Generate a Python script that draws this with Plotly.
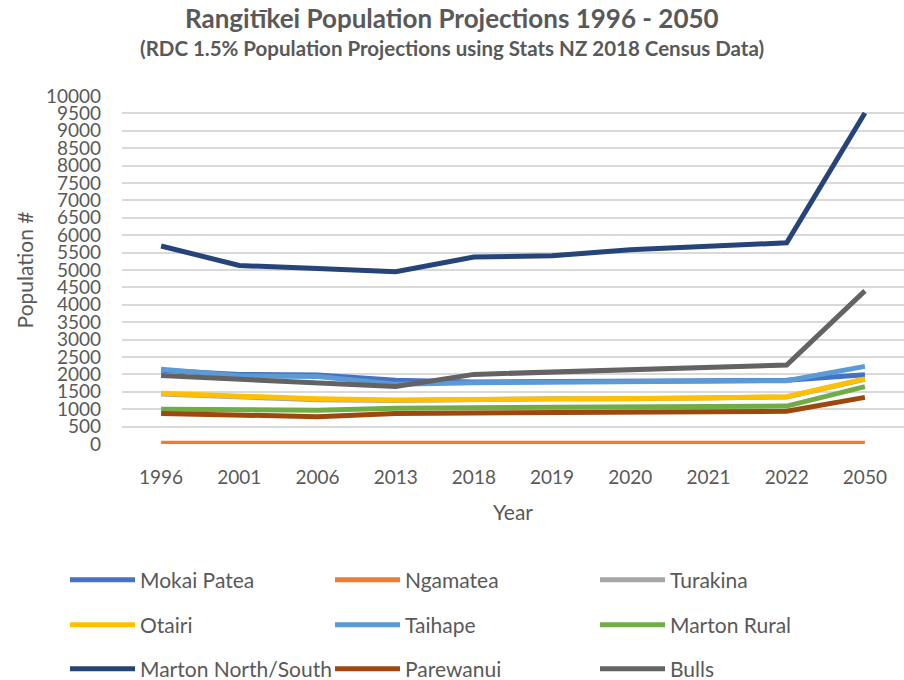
import plotly.graph_objects as go

years = ["1996", "2001", "2006", "2013", "2018", "2019", "2020", "2021", "2022", "2050"]

mokai_patea = [2120, 2000, 1980, 1830, 1780, 1790, 1800, 1810, 1830, 1990]
ngamatea = [25, 25, 25, 25, 20, 20, 20, 20, 20, 20]
turakina = [1440, 1350, 1270, 1250, 1280, 1300, 1300, 1310, 1350, 1860]
otairi = [1455, 1380, 1300, 1265, 1290, 1310, 1310, 1320, 1360, 1870]
taihape = [2150, 1960, 1940, 1720, 1760, 1780, 1790, 1800, 1820, 2230]
marton_rural = [1000, 990, 970, 1030, 1050, 1060, 1070, 1080, 1090, 1650]
marton_ns = [5690, 5130, 5040, 4950, 5370, 5410, 5580, 5670, 5780, 9510]
parewanui = [880, 830, 785, 880, 885, 920, 925, 930, 940, 1340]
bulls = [1965, 1860, 1790, 1650, 2000, 2070, 2140, 2210, 2270, 4400]

series = [
    ("Mokai Patea", mokai_patea, "#4472C4", "legend"),
    ("Ngamatea", ngamatea, "#ED7D31", "legend"),
    ("Turakina", turakina, "#A5A5A5", "legend"),
    ("Otairi", otairi, "#FFC000", "legend2"),
    ("Taihape", taihape, "#5B9BD5", "legend2"),
    ("Marton Rural", marton_rural, "#70AD47", "legend2"),
    ("Marton North/South", marton_ns, "#264478", "legend3"),
    ("Parewanui", parewanui, "#9E480E", "legend3"),
    ("Bulls", bulls, "#636363", "legend3"),
]

FONT = "Lato"
TXT = "#595959"
W, H = 904, 680
L, R, T, B = 122, 0, 96, 236
PW, PH = W - L - R, H - T - B

def px_x(px):
    return (px - L) / PW

def px_y(py):
    return (H - B - py) / PH

fig = go.Figure()
for name, vals, color, lg in series:
    fig.add_trace(go.Scatter(
        x=years, y=vals, name=name, mode="lines",
        line=dict(color=color, width=5),
        legend=lg,
    ))

def leg(py):
    return dict(
        orientation="h", xref="paper", yref="paper",
        x=px_x(65), y=px_y(py), xanchor="left", yanchor="middle",
        entrywidth=185, entrywidthmode="pixels",
        itemwidth=65,
        font=dict(family=FONT, size=21, color=TXT),
        bgcolor="rgba(0,0,0,0)",
    )

fig.update_layout(
    width=W, height=H,
    margin=dict(l=L, r=R, t=T, b=B, autoexpand=False),
    paper_bgcolor="white", plot_bgcolor="white",
    font=dict(family=FONT, color=TXT),
    showlegend=True,
    legend=leg(580),
    legend2=leg(625),
    legend3=leg(669),
    xaxis=dict(
        type="category", range=[-0.5, len(years) - 0.5],
        showgrid=False, zeroline=False, showline=False,
        tickfont=dict(family=FONT, size=19, color=TXT),
        ticklabelstandoff=20,
        title=dict(text="Year", font=dict(family=FONT, size=21, color=TXT), standoff=18),
    ),
    yaxis=dict(
        range=[0, 10000], dtick=500, tick0=0, tickformat="d",
        showgrid=True, gridcolor="#D9D9D9", gridwidth=1.5,
        zeroline=False, showline=False,
        tickfont=dict(family=FONT, size=19, color=TXT),
        ticklabelstandoff=20,
        title=dict(text="Population #", font=dict(family=FONT, size=21, color=TXT), standoff=6),
    ),
    annotations=[
        dict(text="<b>Rangitīkei Population Projections 1996 - 2050</b>",
             xref="paper", yref="paper", x=px_x(452), y=px_y(18),
             xanchor="center", yanchor="middle", showarrow=False,
             font=dict(family=FONT, size=26, color=TXT)),
        dict(text="<b>(RDC 1.5% Population Projections using Stats NZ 2018 Census Data)</b>",
             xref="paper", yref="paper", x=px_x(452), y=px_y(48),
             xanchor="center", yanchor="middle", showarrow=False,
             font=dict(family=FONT, size=20.5, color=TXT)),
    ],
)

fig.write_html("out.html")
